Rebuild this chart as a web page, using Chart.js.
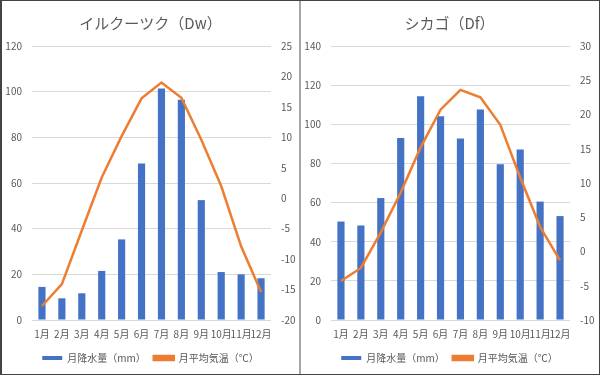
<!DOCTYPE html>
<html>
<head>
<meta charset="utf-8">
<script src="https://cdn.jsdelivr.net/npm/chart.js@4/dist/chart.umd.min.js"></script>
<style>
  html, body { margin: 0; padding: 0; background: #fff; }
  .frame {
    width: 600px; height: 375px; box-sizing: border-box;
    border: 1px solid #444; border-left-width: 2px;
    display: flex; background: #fff;
  }
  .cell { width: 297px; height: 373px; position: relative; }
  .divider { width: 2px; height: 373px; background: #a6a6a6; }
</style>
</head>
<body>
<div class="frame">
  <div class="cell"><canvas id="irkutsk"></canvas></div>
  <div class="divider"></div>
  <div class="cell"><canvas id="chicago"></canvas></div>
</div>
<script>
// month labels shared by both charts
const months = ['1月', '2月', '3月', '4月', '5月', '6月', '7月', '8月', '9月', '10月', '11月', '12月'];

// イルクーツク
const irkutskRain = [14.5, 9.5, 11.7, 21.5, 35.3, 68.5, 101.4, 96.5, 52.5, 21.0, 20.0, 18.3];
const irkutskTemp = [-17.7, -14.1, -5.3, 3.4, 10.2, 16.4, 19.0, 16.5, 9.6, 2.0, -7.9, -15.4];

// シカゴ
const chicagoRain = [50.3, 48.3, 62.3, 93.0, 114.3, 104.1, 92.7, 107.6, 79.6, 87.1, 60.5, 53.1];
const chicagoTemp = [-4.3, -2.4, 2.8, 8.6, 15.2, 20.7, 23.6, 22.5, 18.5, 10.8, 3.6, -1.3];

const textColor = '#595959';
const jpFont = '"Noto Sans CJK JP", "Noto Sans", sans-serif';

function makeChart(id, title, rain, temp, rainMax, tempMin, tempMax) {
    const ctx = document.getElementById(id).getContext('2d');
    return new Chart(ctx, {
        type: 'bar',
        data: {
            labels: months,
            datasets: [{
                type: 'bar',
                label: '月降水量（mm）',
                data: rain,
                backgroundColor: '#4472C4',
                borderWidth: 0,
                yAxisID: 'y',
                order: 1,
                barPercentage: 0.36,
                categoryPercentage: 1
            }, {
                type: 'line',
                label: '月平均気温（℃）',
                data: temp,
                borderColor: '#ED7D31',
                backgroundColor: '#ED7D31',
                borderWidth: 2.5,
                pointRadius: 0,
                tension: 0,
                yAxisID: 'y1',
                order: 0
            }]
        },
        options: {
            responsive: true,
            maintainAspectRatio: false,
            animation: false,
            layout: { padding: { left: 0, right: 0, top: 0, bottom: 1 } },
            plugins: {
                title: {
                    display: true,
                    text: title,
                    color: textColor,
                    font: { family: jpFont, size: 15, weight: 'normal' },
                    padding: { top: 13, bottom: 14 }
                },
                legend: {
                    position: 'bottom',
                    labels: {
                        color: textColor,
                        font: { family: jpFont, size: 10 },
                        boxWidth: 20,
                        boxHeight: 4,
                        padding: 8,
                        sort: (a, b) => a.datasetIndex - b.datasetIndex
                    }
                },
                tooltip: { enabled: false }
            },
            scales: {
                x: {
                    grid: { display: false, drawTicks: false },
                    border: { display: false },
                    ticks: {
                        color: textColor,
                        font: { family: jpFont, size: 10 },
                        padding: 8,
                        maxRotation: 0,
                        autoSkip: false
                    },
                    afterFit: scale => { scale.height = 25; }
                },
                y: {
                    position: 'left',
                    min: 0,
                    max: rainMax,
                    ticks: {
                        stepSize: 20,
                        color: textColor,
                        font: { family: jpFont, size: 10 },
                        padding: 10
                    },
                    grid: { color: '#d9d9d9', drawTicks: false },
                    border: { display: false },
                    afterFit: scale => { scale.width = 30; }
                },
                y1: {
                    position: 'right',
                    min: tempMin,
                    max: tempMax,
                    ticks: {
                        stepSize: 5,
                        color: textColor,
                        font: { family: jpFont, size: 10 },
                        padding: 10
                    },
                    grid: { display: false, drawTicks: false },
                    border: { display: false },
                    afterFit: scale => { scale.width = 28; }
                }
            }
        }
    });
}

makeChart('irkutsk', 'イルクーツク（Dw）', irkutskRain, irkutskTemp, 120, -20, 25);
makeChart('chicago', 'シカゴ（Df）', chicagoRain, chicagoTemp, 140, -10, 30);
</script>
</body>
</html>
